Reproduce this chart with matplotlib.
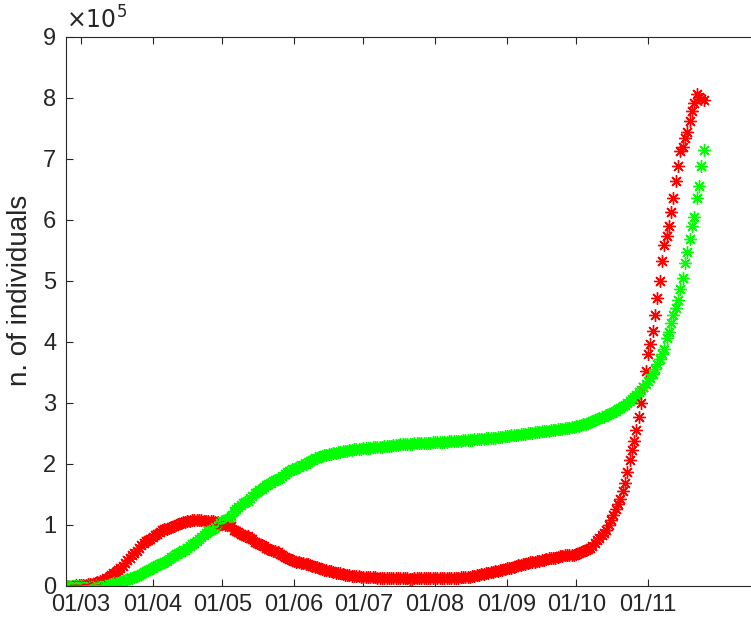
import matplotlib
matplotlib.use("Agg")
import matplotlib.pyplot as plt
import matplotlib.dates as mdates
from matplotlib.ticker import FixedLocator, FuncFormatter
import pandas as pd
import datetime as dt

plt.rcParams['font.family'] = ['Liberation Sans', 'DejaVu Sans']

start_date = "2020-02-24"

# Active cases (red), daily from 24/02 to 25/11
active = [
    221, 311, 385, 588, 821, 1049,
    1577, 1835, 2263, 2706, 3296, 3916, 5061, 6387, 7985, 8514, 10590, 12839, 14955, 17750, 20603, 23073,
    26062, 28710, 33190, 37860, 42681, 46638, 50418, 54030, 57521, 62013, 66414, 70065, 73880, 75528, 77635,
    80572, 83049, 85388, 88274, 91246, 93187, 94067, 95262, 96877, 98273, 100269, 102253, 103616, 104291,
    105418, 106607, 106962, 107771, 108257, 108237, 107709, 107699, 106848, 106527, 105847, 106103, 105813,
    105205, 104657, 101551,
    100943, 100704, 100179, 99980, 98467, 91528, 89624, 87961, 84842, 83324, 82488, 81266, 78457, 76440,
    72070, 70187, 68351, 66553, 65129, 62752, 60960, 59322, 57752, 56594, 55300, 52942, 50966, 47986, 46175,
    43691, 42075,
    41367, 39893, 39297, 38429, 36976, 35877, 35262, 34730, 32872, 31710, 30637, 28997, 27485, 26274, 25909,
    24569, 23925, 23101, 21543, 20972, 20637, 19573, 18655, 18303, 17638, 16836, 16496, 16248, 15563, 15255,
    14884, 14621, 15060, 14242, 14100, 14060, 13595, 13459, 13303, 13179, 13157, 12919, 12942, 12581, 12493,
    12456, 12404, 12368, 12440, 12301, 12248, 12209, 12322, 12456, 12616, 12581, 12565, 12404, 12442, 12482, 12422,
    12457, 12565, 12646, 12474, 12522, 12616, 12694, 12924, 13179, 13369, 13714, 14081, 14406, 14733, 15089,
    15360, 15932, 16678, 17503, 18438, 19195, 19714, 20753, 21932, 22765, 23035, 24205, 25205, 26078, 26754, 27817,
    28915, 29864, 30099, 31194, 32078, 33789, 34734, 35708, 36767, 37503, 38509, 39187, 39712, 40532, 41413,
    42457, 43161, 44098, 45079, 45489, 46114, 46439, 47718, 48593, 49618, 50323, 50630, 50950, 51100, 51263,
    52647, 54016, 55566, 57429, 58903, 60134, 62576, 65952, 70110, 74829, 79075, 82764, 87193, 92116, 99266,
    107312, 116935, 126237, 134003, 142739, 155442, 169302, 186002, 205966, 222241, 236684, 255090, 276457,
    299191, 325786, 351386,
    379733, 396512, 418142, 443235, 472348, 499118, 532536, 558636, 573235, 590110, 613358, 635054, 663926,
    687311, 712490, 719304, 733810, 743168, 761671, 777176, 791697, 805947, 800717, 796849, 795771,
]

# Removed: recovered + deceased (green), same days
removed = [
    8, 11, 15, 62, 67, 79,
    117, 201, 239, 383, 562, 720, 822, 988, 1187, 1635, 1872, 2274, 2705, 3407, 4144, 4907, 5444, 7003, 7845,
    9161, 10897, 12500, 13509, 15146, 16865, 18526, 20084, 22407, 23809, 26211, 28157,
    30002, 32193, 34439, 36358, 37702, 39360, 41519, 44160, 46749, 49304, 52002, 54110, 55900, 58197, 59737,
    62334, 65472, 68154, 70715, 72991, 76248, 79628, 83125, 86467, 89504, 91572, 93601, 96300, 98934, 103912,
    106485, 108624, 110538, 111958, 114546, 122929, 126234, 129224, 133426, 135746, 137326, 139950, 143647,
    146656, 151815, 154573, 157084, 159333, 161570, 164612, 167046, 169336, 171575, 173264, 174858, 177613,
    180173, 183746, 186073, 188973, 190922,
    191830, 193622, 194559, 197488, 198863, 200451, 202587, 203944, 207177, 208979, 210300, 211600, 212900,
    214000, 214700, 215900, 216800, 217700, 218500, 219146, 219800, 220500, 221200, 221900, 222600, 223200,
    223800, 224300, 224700, 225015,
    225480, 225870, 226310, 226690, 226950, 227320, 227740, 228010, 228290, 228640, 228920, 229330, 229710,
    230280, 231013, 231470, 231820, 232090, 232380, 232710, 232980, 233290, 233520, 233690, 233910, 234120,
    234290, 234480, 234720, 234910, 235115,
    235340, 235610, 235870, 236080, 236360, 236590, 236870, 237090, 237360, 237610, 237840, 238110, 238390,
    238720, 239010, 239290, 239660, 239980, 240370, 240690, 241060, 241390, 241770, 242080, 242460, 242810,
    243190, 243620, 243990, 244510, 245093,
    245580, 246120, 246590, 247130, 247570, 248120, 248590, 249140, 249560, 250130, 250610, 251080, 251620,
    252070, 252580, 253120, 253570, 254130, 254590, 255120, 255580, 256130, 256570, 257140, 257590, 258120,
    258570, 259130, 259690, 260311,
    261500, 262600, 263900, 265000, 265900, 267000, 268800, 270400, 272000, 273500, 274900, 276000, 277600,
    279500, 281400, 283300, 285400, 287400, 289200, 291700, 294200, 297000, 299800, 302900, 305900, 309200,
    313200, 317000, 321300, 326000, 330800,
    335300, 340500, 347800, 355600, 363500, 371800, 379700, 388000, 406000, 416000, 431500, 444000, 456000,
    468000, 487000, 505000, 529700, 547000, 568000, 589600, 604000, 635400, 655700, 688000, 714600,
]

month_ticks = ["2020-03-01", "2020-04-01", "2020-05-01", "2020-06-01", "2020-07-01",
               "2020-08-01", "2020-09-01", "2020-10-01", "2020-11-01"]
y_ticks = [0, 1e5, 2e5, 3e5, 4e5, 5e5, 6e5, 7e5, 8e5, 9e5]

dates = pd.date_range(start_date, periods=len(active))

W, H = 751, 626
fig = plt.figure(figsize=(W / 100, H / 100), dpi=100)
ax = fig.add_axes([66 / W, 40 / H, (W - 66) / W, (586 - 36.5) / H])

dark = (0.15, 0.15, 0.15)
mk = (8, 2, 0)
for d, a, r in zip(dates, active, removed):
    ax.plot([d], [a], linestyle='none', marker=mk, markersize=9, mew=1.0, color=(1, 0, 0))
    ax.plot([d], [r], linestyle='none', marker=mk, markersize=9, mew=1.0, color=(0, 1, 0))

ax.set_xlim(dt.datetime(2020, 2, 23, 12), dt.datetime(2020, 12, 15, 12))
ax.set_ylim(0, 9e5)
ax.xaxis.set_major_locator(FixedLocator([mdates.date2num(pd.Timestamp(t)) for t in month_ticks]))
ax.xaxis.set_major_formatter(mdates.DateFormatter("%d/%m"))
ax.yaxis.set_major_locator(FixedLocator(y_ticks))
ax.yaxis.set_major_formatter(FuncFormatter(lambda v, p: f"{v / 1e5:g}"))

for s in ax.spines.values():
    s.set_color(dark)
    s.set_linewidth(0.8)
ax.spines['right'].set_visible(False)

ax.tick_params(axis='both', direction='in', length=5, width=0.8, color=dark,
               labelcolor=dark, labelsize=17, top=True, right=False)
ax.tick_params(axis='x', pad=6)
ax.tick_params(axis='y', pad=7)

ax.set_ylabel("n. of individuals", fontsize=20, color=dark)
ax.yaxis.set_label_coords(-0.048, (586 - 290) / 549.5)
ax.text(0.0, 1.005, r"$\times10^{5}$", transform=ax.transAxes, fontsize=17,
        color=dark, ha='left', va='bottom')

fig.savefig("out.png", dpi=100)
